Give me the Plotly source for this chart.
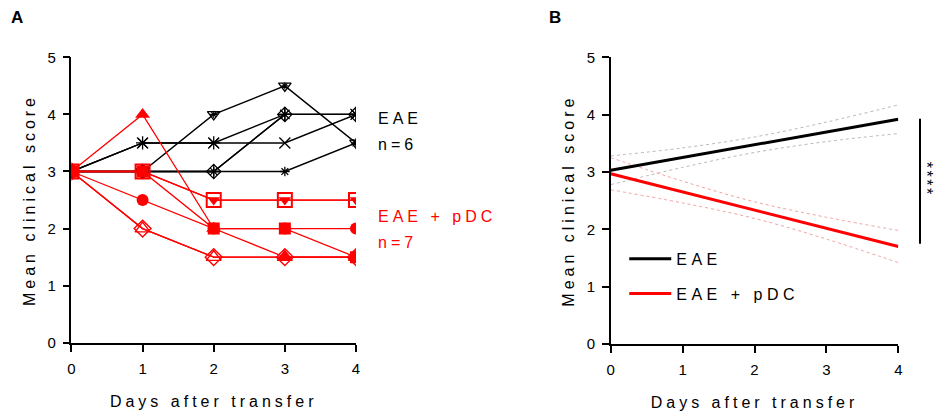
import plotly.graph_objects as go

# ---------------- data ----------------
days = [0, 1, 2, 3, 4]
x_ticks = [0, 1, 2, 3, 4]
y_ticks = [0, 1, 2, 3, 4, 5]

# Panel A: individual EAE mice (n=6)
eae_m1 = [3, 3, 4, 4.5, 3.5]
eae_m2 = [3, 3.5, 3.5, 4, 4]
eae_m3 = [3, 3.5, 3.5, 3.5, 4]
eae_m4 = [3, 3, 3, 4, 4]
eae_m5 = [3, 3, 3, 4, 4]
eae_m6 = [3, 3, 3, 3, 3.5]

# Panel A: individual EAE + pDC mice (n=7)
pdc_m1 = [3, 2.5, 2, 2, 2]
pdc_m2 = [3, 3, 2, 2, 1.5]
pdc_m3 = [3, 4, 2, 1.5, 1.5]
pdc_m4 = [3, 3, 2.5, 2.5, 2.5]
pdc_m5 = [3, 3, 2.5, 2.5, 2.5]
pdc_m6 = [3, 2, 1.5, 1.5, 1.5]
pdc_m7 = [3, 2, 1.5, 1.5, 1.5]

# Panel B: linear fits and confidence bands
fit_days = [0, 4]
eae_fit = [3.03, 3.92]
pdc_fit = [2.97, 1.70]
eae_upper = [3.28, 3.42, 3.61, 3.87, 4.17]
eae_lower = [2.78, 3.08, 3.34, 3.53, 3.67]
pdc_upper = [3.25, 2.84, 2.48, 2.21, 1.98]
pdc_lower = [2.69, 2.46, 2.19, 1.83, 1.42]

group_names = ["EAE", "EAE + pDC"]
group_n = ["n=6", "n=7"]
sig_label = "****"
sig_span = [1.75, 3.93]

FONT = "Liberation Sans, Arial, sans-serif"
BLACK = "#000000"
RED = "#ff0000"


def sp(t, s=4):
    return f'<span style="letter-spacing:{s}px">{t}</span>'


fig = go.Figure()

# ---- Panel A black mice ----
eae_specs = [
    (eae_m1, "triangle-down-open", 11),
    (eae_m2, "asterisk-open", 11),
    (eae_m3, "x-thin-open", 11),
    (eae_m4, "diamond-open", 11),
    (eae_m5, "cross-thin-open", 10),
    (eae_m6, "asterisk-open", 8),
]
for vals, sym, size in eae_specs:
    fig.add_trace(go.Scatter(
        x=days, y=vals, mode="lines+markers", xaxis="x", yaxis="y",
        line=dict(color=BLACK, width=1.4),
        marker=dict(symbol=sym, size=size, color=BLACK, line=dict(color=BLACK, width=1.3)),
        showlegend=False, hoverinfo="skip"))
# star inside triangle markers
fig.add_trace(go.Scatter(
    x=days, y=eae_m1, mode="markers", xaxis="x", yaxis="y",
    marker=dict(symbol="asterisk-open", size=6, color=BLACK, line=dict(color=BLACK, width=1.1)),
    showlegend=False, hoverinfo="skip"))

# ---- Panel A red mice ----
pdc_specs = [
    (pdc_m6, "triangle-up-open", 13, 1.4),
    (pdc_m7, "diamond-open", 13, 1.4),
    (pdc_m5, "square-open", 14, 2),
    (pdc_m4, "triangle-down", 11, 0),
    (pdc_m1, "circle", 12, 0),
    (pdc_m3, "triangle-up", 13, 0),
    (pdc_m2, "square", 12, 0),
]
for vals, sym, size, lw in pdc_specs:
    fig.add_trace(go.Scatter(
        x=days, y=vals, mode="lines+markers", xaxis="x", yaxis="y",
        line=dict(color=RED, width=1.3),
        marker=dict(symbol=sym, size=size, color=RED, line=dict(color=RED, width=lw)),
        showlegend=False, hoverinfo="skip"))

# ---- Panel B bands ----
for vals, col in [(eae_upper, "#b8b8b8"), (eae_lower, "#b8b8b8"),
                  (pdc_upper, "#f5a0a0"), (pdc_lower, "#f5a0a0")]:
    fig.add_trace(go.Scatter(
        x=days, y=vals, mode="lines", xaxis="x2", yaxis="y2",
        line=dict(color=col, width=1, dash="dot", shape="spline"),
        showlegend=False, hoverinfo="skip"))

# ---- Panel B fits ----
for vals, col, name, grp in [(eae_fit, BLACK, group_names[0], "g1"),
                             (pdc_fit, RED, group_names[1], "g2")]:
    fig.add_trace(go.Scatter(
        x=fit_days, y=vals, mode="lines", xaxis="x2", yaxis="y2",
        line=dict(color=col, width=3), name=sp(name, 4.5), legendgroup=grp,
        hoverinfo="skip"))

axis_common = dict(
    showgrid=False, zeroline=False, showline=True, linecolor=BLACK, linewidth=1.5,
    ticks="outside", ticklen=7, tickwidth=1.5, tickcolor=BLACK,
    tickfont=dict(family=FONT, size=15, color=BLACK), ticklabelstandoff=4,
    fixedrange=True, automargin=False,
)

fig.update_layout(
    width=938, height=417,
    margin=dict(l=0, r=0, t=0, b=0, autoexpand=False),
    paper_bgcolor="white", plot_bgcolor="white",
    font=dict(family=FONT, color=BLACK),
    xaxis=dict(domain=[0.0762, 0.3795], range=[0, 4], tickvals=x_ticks, anchor="y",
               title=dict(text=sp("Days after transfer"), font=dict(size=16), standoff=20),
               **axis_common),
    yaxis=dict(domain=[0.178, 0.8626], range=[0, 5], tickvals=y_ticks, anchor="x",
               title=dict(text=sp("Mean clinical score"), font=dict(size=16), standoff=8),
               **axis_common),
    xaxis2=dict(domain=[0.6511, 0.9577], range=[0, 4], tickvals=x_ticks, anchor="y2",
                title=dict(text=sp("Days after transfer"), font=dict(size=16), standoff=20),
                **axis_common),
    yaxis2=dict(domain=[0.175, 0.8626], range=[0, 5], tickvals=y_ticks, anchor="x2",
                title=dict(text=sp("Mean clinical score"), font=dict(size=16), standoff=8),
                **axis_common),
    legend=dict(x=0.6655, y=0.42, xanchor="left", yanchor="top", itemwidth=42,
                font=dict(family=FONT, size=16, color=BLACK),
                bgcolor="rgba(0,0,0,0)", traceorder="grouped", tracegroupgap=11),
    showlegend=True,
)

ann = [
    dict(text="<b>A</b>", x=9 / 938, y=0.958, xref="paper", yref="paper",
         xanchor="left", yanchor="middle", showarrow=False, font=dict(size=17)),
    dict(text="<b>B</b>", x=547 / 938, y=0.958, xref="paper", yref="paper",
         xanchor="left", yanchor="middle", showarrow=False, font=dict(size=17)),
    dict(text=sp(group_names[0]), x=376 / 938, y=3.93, xref="paper", yref="y",
         xanchor="left", yanchor="middle", showarrow=False, font=dict(size=16, color=BLACK)),
    dict(text=sp(group_n[0]), x=376 / 938, y=3.47, xref="paper", yref="y",
         xanchor="left", yanchor="middle", showarrow=False, font=dict(size=16, color=BLACK)),
    dict(text=sp(group_names[1]), x=376 / 938, y=2.22, xref="paper", yref="y",
         xanchor="left", yanchor="middle", showarrow=False, font=dict(size=16, color=RED)),
    dict(text=sp(group_n[1]), x=376 / 938, y=1.75, xref="paper", yref="y",
         xanchor="left", yanchor="middle", showarrow=False, font=dict(size=16, color=RED)),
    dict(text=sp(sig_label, 2.5), x=926 / 938, y=2.88, xref="paper", yref="y2",
         xanchor="center", yanchor="middle", textangle=90, showarrow=False,
         borderpad=0, font=dict(size=16, color=BLACK)),
]
fig.update_layout(annotations=ann)

fig.add_shape(type="line", xref="paper", yref="y2", x0=920 / 938, x1=920 / 938,
              y0=sig_span[0], y1=sig_span[1], line=dict(color=BLACK, width=2))

fig.write_html(
    "out.html",
    config={"displayModeBar": False},
    post_script="document.body.style.margin='0';document.body.style.overflow='hidden';",
)
